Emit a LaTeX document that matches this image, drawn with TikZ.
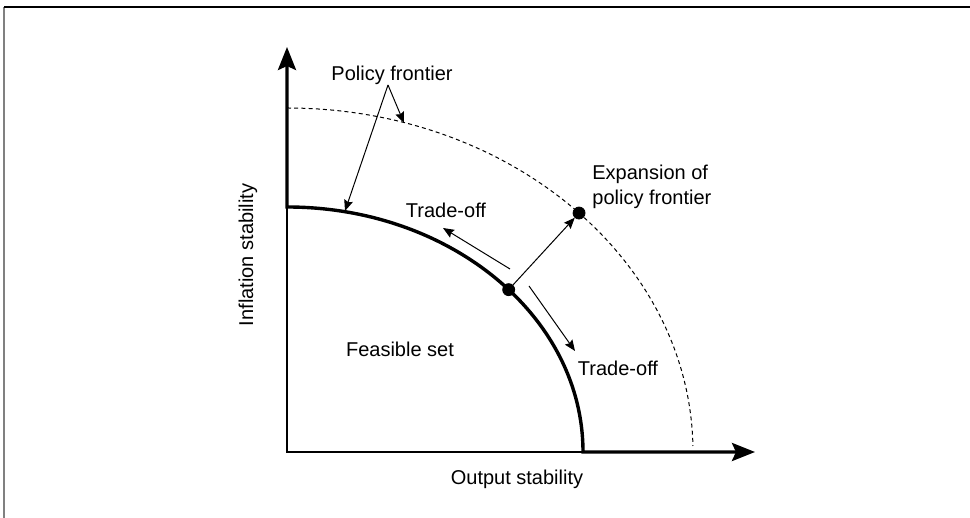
\documentclass[tikz,border=0pt]{standalone}
\usepackage{fontspec}
\setmainfont{Liberation Sans}
\usetikzlibrary{arrows.meta, calc, positioning}
\tikzset{
    textnode/.style = {draw=none, fill=none, rectangle, inner sep=0em, 
      font=\fontsize{10}{12.5}\selectfont, align=center},
    dotnode/.style = {draw, fill=black, circle, minimum size=6pt, inner sep=0em},
    axisline/.style = {black, line width=1pt},
    frontierline/.style = {black, line width=1.7pt, 
      {Stealth[length=11.5pt, width=9pt, inset=2pt]}-{Stealth[length=11.5pt, width=9pt, inset=2pt]}},
    outerfrontier/.style = {black, line width=0.5pt, dash pattern=on 2pt off 1.6pt},
    connect/.style = {black, line width=0.5pt, -{Stealth[length=5.5pt, width=4.5pt, inset=0.8pt]}},
    framebar/.style = {line width=0.7pt}
}

\begin{document}
\begin{tikzpicture}[x=0.5pt, y=0.5pt]
    \useasboundingbox (0,0) rectangle (970,518);

    % frame
    \draw [framebar, gray] (4,0) -- (4,511);
    \draw [framebar] (4,511) -- (970,511);

    % axes and frontiers
    \coordinate (O) at (287,66);
    \coordinate (ftop) at (287,311);
    \coordinate (fend) at (583,66);
    \draw [axisline] (ftop) -- (O) -- (fend);
    \draw [frontierline] (287,471) -- (ftop) 
        arc [start angle=90, end angle=0, x radius=148pt, y radius=122.5pt] -- (755,66);
    \draw [outerfrontier] (287,410) 
        arc [start angle=90, end angle=1, x radius=203pt, y radius=172pt];

    % points
    \node [name=cur, dotnode] at ($(O)+({296*cos(41.5)},{245*sin(41.5)})$) {};
    \node [name=exp, dotnode] at ($(O)+({406*cos(44)},{344*sin(44)})$) {};
    \draw [connect] (cur) -- (exp);

    % trade-off arrows
    \coordinate (tl0) at (510,249);
    \coordinate (tl1) at (443,290);
    \coordinate (tr0) at (529,232);
    \coordinate (tr1) at (575,167);
    \draw [connect] (tl0) -- (tl1);
    \draw [connect] (tr0) -- (tr1);

    % labels
    \node [textnode, name=tradeup] at (446,308) {Trade-off};
    \node [textnode, name=tradedown] at (618,150) {Trade-off};
    \node [textnode, name=feasible] at (400,169) {Feasible set};
    \node [textnode, name=expand, align=left, anchor=west] at (592,331) {Expansion of\\policy frontier};
    \node [textnode, name=xlabel] at (517,39) {Output stability};
    \node [textnode, name=ylabel, rotate=90] at (248,263) {Inflation stability};
    \node [textnode, name=policy, anchor=south] at (392,433) {Policy frontier};

    \coordinate (pfin) at (345,307);
    \coordinate (pfout) at (404,395);
    \draw [connect] ([xshift=-2pt]policy.south) -- (pfin);
    \draw [connect] ([xshift=-2pt]policy.south) -- (pfout);
\end{tikzpicture}
\end{document}
